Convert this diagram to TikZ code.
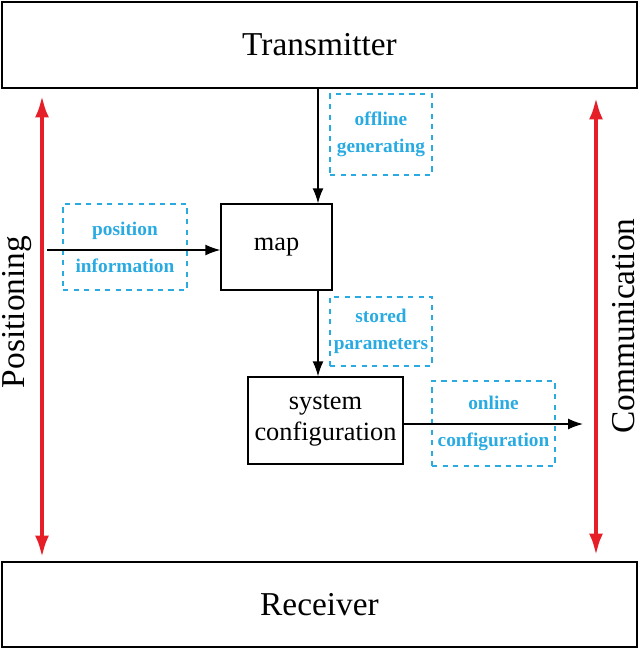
\documentclass[tikz,border=0pt]{standalone}
\usepackage{fontspec}
\setmainfont{Liberation Serif}
\usetikzlibrary{arrows.meta}
\definecolor{lblue}{RGB}{41,171,226}
\definecolor{lred}{RGB}{230,30,40}
\tikzset{
  block/.style={draw, thick, inner sep=0pt},
  note/.style={draw=lblue, dashed, thick, text=lblue, font=\bfseries\fontsize{11}{15}\selectfont, align=center, inner sep=0pt},
  flow/.style={-{Latex[length=3mm,width=2.2mm]}, thick},
  side/.style={{Latex[length=4.5mm,width=2.8mm]}-{Latex[length=4.5mm,width=2.8mm]}, line width=2.5pt, draw=lred}
}
\begin{document}
\begin{tikzpicture}[x=0.02cm,y=-0.02cm]
  \useasboundingbox (0,0) rectangle (640,649);
  % Main blocks
  \node[block, minimum width=635*0.02cm, minimum height=86*0.02cm, font=\fontsize{19}{22}\selectfont] (tx) at (319.5,45) {Transmitter};
  \node[block, minimum width=635*0.02cm, minimum height=85*0.02cm, font=\fontsize{19}{22}\selectfont] (rx) at (319.5,604.5) {Receiver};
  \node[block, minimum width=111*0.02cm, minimum height=86*0.02cm, font=\fontsize{15}{18}\selectfont] (map) at (276.5,247) {map};
  \node[block, minimum width=155*0.02cm, minimum height=87*0.02cm, align=center, font=\fontsize{15}{18}\selectfont] (sys) at (325.5,420.5) {system\\configuration};
  % Dashed labels
  \node[note, minimum width=102*0.02cm, minimum height=81*0.02cm] (offg) at (381,134.5) {offline\\generating};
  \node[note, minimum width=124*0.02cm, minimum height=86*0.02cm, font=\bfseries\fontsize{11}{21}\selectfont] (posi) at (125,247) {position\\information};
  \node[note, minimum width=102*0.02cm, minimum height=69*0.02cm] (stor) at (381,331.5) {stored\\parameters};
  \node[note, minimum width=123*0.02cm, minimum height=85*0.02cm, font=\bfseries\fontsize{11}{21}\selectfont] (onc) at (493.5,423.5) {online\\configuration};
  % Side labels
  \node[rotate=90, font=\fontsize{19}{22}\selectfont] (pos) at (17,312) {Positioning};
  \node[rotate=90, font=\fontsize{19}{22}\selectfont] (com) at (624,326) {Communication};
  \coordinate (pin) at (47,250);
  \coordinate (cout) at (583,424);
  \coordinate (la) at (42,95);
  \coordinate (lb) at (42,558);
  \coordinate (ra) at (596,97);
  \coordinate (rb) at (596,556);
  % Connectors
  \draw[flow] (tx.south -| 318,0) -- (map.north -| 318,0);
  \draw[flow] (map.south -| 318,0) -- (sys.north -| 318,0);
  \draw[flow] (pin) -- (pin -| map.west);
  \draw[flow] (cout -| sys.east) -- (cout);
  \draw[side] (la) -- (lb);
  \draw[side] (ra) -- (rb);
\end{tikzpicture}
\end{document}
